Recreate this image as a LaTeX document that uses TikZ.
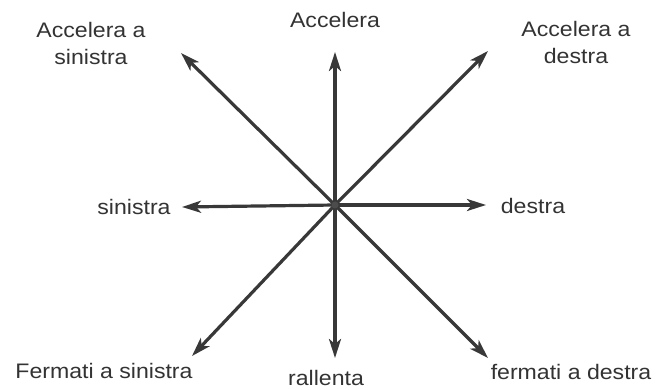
\documentclass[tikz,border=0pt]{standalone}
\usepackage{fontspec}
\setmainfont{Liberation Sans}
\usetikzlibrary{arrows.meta}
\newcommand{\lbl}[1]{\scalebox{1.1}[1]{#1}}
\tikzset{
  arr/.style={draw=black!78, line width=3.2pt, -{Stealth[length=19pt,width=12pt,inset=5pt]}},
  lab/.style={inner sep=0pt, align=center, text=black!80, font=\fontsize{21}{27}\selectfont}
}
\begin{document}
\begin{tikzpicture}[x=1pt,y=-1pt]
\fill[white] (0,0) rectangle (656,390);
\useasboundingbox (0,0) rectangle (656,390);
\coordinate (c) at (335,205);
\coordinate (n) at (335,52);
\coordinate (s) at (335,358);
\coordinate (w) at (182,207);
\coordinate (e) at (486,205);
\coordinate (nw) at (181,53);
\coordinate (ne) at (488,51);
\coordinate (sw) at (192,356);
\coordinate (se) at (488,358);
\foreach \t in {n,s,w,e,nw,ne,sw,se}{\draw[arr] (c) -- (\t);}
\fill[black!70] (c) circle (3.5pt);
\node[lab] (ln) at (335,20) {\lbl{Accelera}};
\node[lab] (lnw) at (91,43) {\lbl{Accelera a}\\\lbl{sinistra}};
\node[lab] (lne) at (576,42) {\lbl{Accelera a}\\\lbl{destra}};
\node[lab] (lw) at (134,207) {\lbl{sinistra}};
\node[lab] (le) at (533,206) {\lbl{destra}};
\node[lab] (lsw) at (104,371) {\lbl{Fermati a sinistra}};
\node[lab] (ls) at (326,378) {\lbl{rallenta}};
\node[lab] (lse) at (571,372) {\lbl{fermati a destra}};
\end{tikzpicture}
\end{document}
